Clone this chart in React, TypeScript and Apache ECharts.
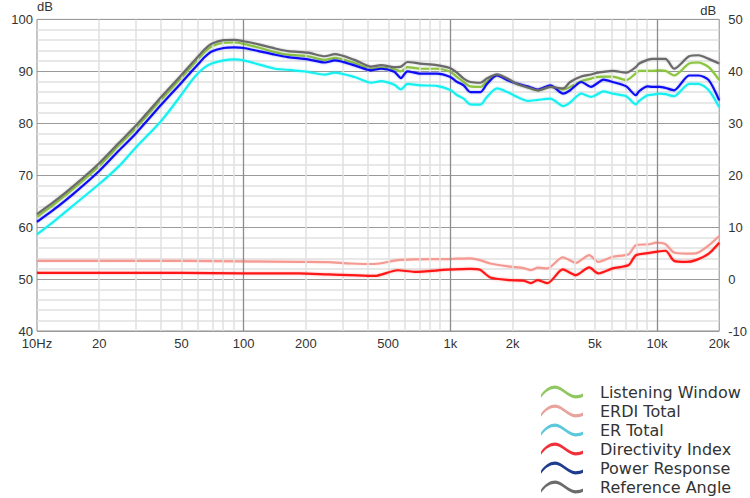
import React, { useEffect, useRef } from "react";
import * as echarts from "echarts";

// Frequencies (Hz) for the four upper curves (left axis, dB)
const freqsUpper = [
  10, 12, 15, 20, 25, 30, 40, 50, 56, 60,
  65, 70, 80, 90, 100, 118, 142, 164, 205, 247,
  276, 344, 414, 462, 536, 577, 620, 715, 860, 1000,
  1080, 1160, 1250, 1400, 1500, 1680, 1890, 2120, 2370, 2650,
  3050, 3520, 3800, 4300, 4800, 5100, 5500, 6100, 7100, 7900,
  8200, 9000, 9500, 10300, 11000, 12100, 14300, 15900, 17800, 20000,
];

const listeningWindow = [
  62.0, 64.3, 67.4, 71.8, 75.8, 79.0, 84.6, 88.8, 91.0, 92.3,
  93.8, 94.8, 95.5, 95.55, 95.3, 94.6, 93.7, 93.2, 92.9, 92.2,
  92.6, 91.6, 90.5, 90.7, 90.4, 90.0, 90.8, 90.5, 90.5, 89.9,
  88.9, 87.95, 87.1, 87.0, 88.0, 89.3, 88.4, 87.5, 86.9, 86.35,
  87.0, 86.5, 87.0, 88.1, 88.6, 88.9, 89.0, 89.0, 88.3, 89.6,
  90.1, 90.1, 90.1, 90.2, 90.1, 89.2, 91.5, 91.7, 90.8, 88.3,
];

const erTotal = [
  58.6, 61.0, 64.2, 68.3, 71.8, 75.3, 80.5, 85.5, 88.2, 89.6,
  90.8, 91.5, 92.1, 92.3, 92.1, 91.35, 90.5, 90.3, 89.9, 89.35,
  89.75, 88.9, 87.8, 88.1, 87.4, 86.5, 87.6, 87.3, 87.2, 86.4,
  85.4, 84.75, 83.65, 83.6, 85.0, 86.7, 86.0, 85.0, 84.3, 84.5,
  84.75, 83.3, 84.0, 85.7, 85.1, 85.5, 86.15, 85.7, 85.2, 83.65,
  84.3, 85.4, 85.5, 85.7, 85.6, 85.2, 87.6, 87.6, 86.35, 83.1,
];

const powerResponse = [
  61.0, 63.3, 66.4, 70.8, 74.8, 78.0, 83.6, 87.8, 90.0, 91.3,
  92.8, 93.8, 94.5, 94.6, 94.5, 93.9, 93.2, 92.75, 92.3, 91.7,
  92.1, 91.15, 90.2, 90.5, 89.9, 88.7, 90.0, 89.55, 89.55, 88.9,
  87.95, 87.3, 86.0, 86.0, 87.5, 89.2, 88.3, 87.6, 87.1, 86.5,
  87.3, 85.7, 86.35, 87.95, 87.0, 87.6, 88.4, 87.95, 87.1, 85.4,
  86.2, 87.1, 87.0, 87.0, 86.8, 86.35, 89.2, 89.2, 88.3, 84.4,
];

const referenceAngle = [
  62.5, 64.8, 67.9, 72.3, 76.3, 79.5, 85.1, 89.3, 91.5, 92.8,
  94.3, 95.3, 96.0, 96.05, 95.8, 95.2, 94.4, 93.9, 93.6, 92.9,
  93.3, 92.2, 90.9, 91.2, 90.8, 90.9, 91.8, 91.5, 91.2, 90.6,
  89.7, 88.6, 87.95, 87.8, 88.6, 89.4, 88.6, 87.5, 86.9, 86.35,
  87.0, 86.7, 87.95, 89.0, 89.4, 89.7, 89.9, 90.1, 89.75, 90.8,
  91.5, 92.2, 92.4, 92.4, 92.4, 90.5, 92.9, 93.1, 92.4, 91.5,
];

// Frequencies (Hz) for the two lower curves (right axis, dB)
const freqsLower = [
  10, 50, 100, 184, 256, 330, 430, 556, 670, 970,
  1250, 1390, 1560, 1950, 2260, 2450, 2650, 2950, 3500, 4050,
  4700, 5200, 6100, 7300, 7900, 9200, 9900, 11000, 12100, 13900,
  15400, 17800, 20000,
];

const erdiTotal = [
  3.5, 3.5, 3.4, 3.3, 3.25, 3.0, 2.9, 3.65, 3.8, 3.85,
  4.0, 3.65, 3.0, 2.4, 2.1, 1.7, 2.2, 2.05, 4.2, 3.1,
  4.6, 3.3, 4.3, 4.8, 6.5, 6.7, 7.0, 6.7, 5.1, 4.9,
  4.95, 6.5, 8.3,
];

const directivityIndex = [
  1.2, 1.2, 1.1, 1.1, 0.9, 0.75, 0.6, 1.7, 1.4, 1.8,
  1.95, 1.8, 0.3, -0.2, -0.3, -0.8, -0.2, -0.8, 1.85, 0.75,
  2.25, 1.1, 2.05, 2.7, 4.6, 5.05, 5.25, 5.45, 3.5, 3.3,
  3.65, 4.9, 7.0,
];

const xTickFreqs = [10, 20, 50, 100, 200, 500, 1000, 2000, 5000, 10000, 20000];
const minorGridFreqs = [
  20, 30, 40, 50, 60, 70, 80, 90,
  200, 300, 400, 500, 600, 700, 800, 900,
  2000, 3000, 4000, 5000, 6000, 7000, 8000, 9000,
];
const majorGridFreqs = [100, 1000, 10000];

const seriesNames = [
  "Listening Window",
  "ERDI Total",
  "ER Total",
  "Directivity Index",
  "Power Response",
  "Reference Angle",
];
const lineColors = ["#8cc63f", "#f59a92", "#19f0f0", "#ff1414", "#1010f5", "#6b6b6b"];
const legendColors = ["#8fc760", "#e8a39c", "#5bc8dc", "#f0303a", "#1e3d8f", "#6b6b6b"];

const WAVE =
  "path://M1.5,9.5 C6,3.5 10,1 15,1 C21,1 27,10 34,10 C37,10 39,9.5 41,8.5 L41,11.5 C39,12.5 37,13 34,13 C27,13 21,4 15,4 C10,4 6,6.5 1.5,12.5 Z";

const lg = (f: number) => Math.log10(f);
const FONT = "'Liberation Sans', Arial, sans-serif";

export default function App() {
  const ref = useRef<HTMLDivElement>(null);

  useEffect(() => {
    if (!ref.current) return;
    const chart = echarts.init(ref.current, undefined, { renderer: "svg" });

    const upperSets = [listeningWindow, null, erTotal, null, powerResponse, referenceAngle];
    const lowerSets = [null, erdiTotal, null, directivityIndex, null, null];

    const dataSeries = seriesNames.map((name, i) => {
      const upper = upperSets[i];
      const lower = lowerSets[i];
      const data = upper
        ? freqsUpper.map((f, k) => [lg(f), upper[k]])
        : freqsLower.map((f, k) => [lg(f), (lower as number[])[k]]);
      return {
        name,
        type: "line",
        yAxisIndex: upper ? 0 : 1,
        data,
        showSymbol: false,
        smooth: 0.25,
        z: 3 + i,
        lineStyle: {
          color: lineColors[i],
          width: 2.2,
          shadowColor: lineColors[i] + "55",
          shadowBlur: 2,
        },
        itemStyle: { color: legendColors[i] },
        emphasis: { disabled: true },
      };
    });

    const gridSeries = {
      name: "grid",
      type: "line",
      data: [[1, 40]],
      showSymbol: false,
      lineStyle: { opacity: 0 },
      z: 1,
      silent: true,
      markLine: {
        silent: true,
        symbol: ["none", "none"],
        label: { show: false },
        emphasis: { disabled: true },
        data: [
          ...minorGridFreqs.map((f) => ({
            xAxis: lg(f),
            lineStyle: { color: "#e0e0e0", width: 1.5, type: "solid" },
          })),
          ...majorGridFreqs.map((f) => ({
            xAxis: lg(f),
            lineStyle: { color: "#8c8c8c", width: 1.3, type: "solid" },
          })),
        ],
      },
    };

    chart.setOption({
      animation: false,
      backgroundColor: "#ffffff",
      grid: {
        left: 37,
        right: 26,
        top: 19,
        bottom: 167,
        show: true,
        borderColor: "#8c8c8c",
        borderWidth: 1,
      },
      xAxis: {
        type: "value",
        min: 1,
        max: lg(20000),
        axisLine: { show: false },
        axisTick: { show: false },
        splitLine: { show: false },
        axisLabel: {
          customValues: xTickFreqs.map(lg),
          margin: 6,
          fontSize: 13,
          color: "#333",
          fontFamily: FONT,
          formatter: (v: number) => {
            const f = Math.round(Math.pow(10, v));
            if (f === 10) return "10Hz";
            if (f >= 1000) return f / 1000 + "k";
            return String(f);
          },
        },
      },
      yAxis: [
        {
          type: "value",
          min: 40,
          max: 100,
          interval: 10,
          position: "left",
          name: "dB",
          nameLocation: "end",
          nameGap: 2,
          nameTextStyle: {
            align: "left",
            fontSize: 13,
            color: "#333",
            fontFamily: FONT,
          },
          axisLine: { show: false },
          axisTick: { show: false },
          axisLabel: { margin: 4, fontSize: 13, color: "#333", fontFamily: FONT },
          splitLine: { lineStyle: { color: "#9a9a9a", width: 1 } },
          minorTick: { show: false, splitNumber: 5 },
          minorSplitLine: { show: true, lineStyle: { color: "#e0e0e0", width: 1.5 } },
        },
        {
          type: "value",
          min: -10,
          max: 50,
          interval: 10,
          position: "right",
          name: "dB",
          nameLocation: "end",
          nameGap: 2,
          nameTextStyle: {
            align: "right",
            fontSize: 13,
            color: "#333",
            fontFamily: FONT,
            padding: [0, 3, 0, 0],
          },
          axisLine: { show: false },
          axisTick: { show: false },
          splitLine: { show: false },
          axisLabel: { margin: 9, fontSize: 13, color: "#333", fontFamily: FONT },
        },
      ],
      legend: {
        orient: "vertical",
        left: 541,
        top: 384,
        padding: 0,
        itemWidth: 42,
        itemHeight: 13,
        itemGap: 3,
        selectedMode: false,
        textStyle: {
          fontSize: 16,
          color: "#333",
          fontFamily: "'DejaVu Sans', sans-serif",
          lineHeight: 15,
          padding: [0, 0, 0, 12],
        },
        data: seriesNames.map((name, i) => ({
          name,
          icon: WAVE,
          itemStyle: { color: legendColors[i], borderWidth: 0 },
          lineStyle: { width: 0 },
        })),
      },
      series: [gridSeries, ...dataSeries],
    });

    return () => chart.dispose();
  }, []);

  return (
    <div
      ref={ref}
      style={{ position: "fixed", left: 0, top: 0, width: 750, height: 498 }}
    />
  );
}
